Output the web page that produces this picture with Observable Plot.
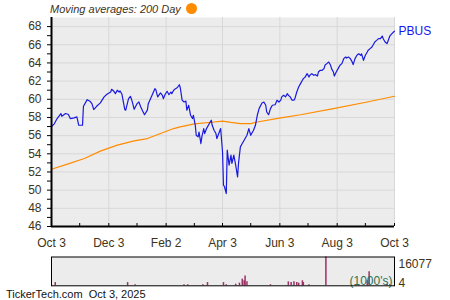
<!DOCTYPE html>
<html>
<head>
<meta charset="utf-8">
<script src="https://cdn.jsdelivr.net/npm/d3@7"></script>
<script src="https://cdn.jsdelivr.net/npm/@observablehq/plot@0.6"></script>
<style>
  html, body { margin: 0; padding: 0; background: #ffffff; }
  #wrap { position: relative; width: 450px; height: 300px; overflow: hidden;
          font-family: "Liberation Sans", Arial, sans-serif; }
  #legend { position: absolute; left: 50px; top: 2px; font-size: 11px; font-style: italic;
            color: #40341a; line-height: 14px; white-space: nowrap; }
  #legend .dot { display: inline-block; width: 11px; height: 11px; border-radius: 50%;
                 background: #ff8c00; vertical-align: -1px; margin-left: 5px; }
  #footer { position: absolute; left: 6px; top: 287px; font-size: 11px; line-height: 14px;
            color: #111111; white-space: nowrap; }
  svg { position: absolute; left: 0; }
</style>
</head>
<body>
<div id="wrap">
  <div id="legend"></div>
  <div id="footer"></div>
</div>
<script>
// ---------- data ----------
const ticker = "PBUS";
const legendText = "Moving averages: 200 Day";
const footerSite = "TickerTech.com";
const footerDate = "Oct 3, 2025";
const volUnitLabel = "(1000's)";

const axisStart = "2024-10-03";
const axisEnd = "2025-10-03";
const xLabelDates = ["2024-10-03","2024-12-03","2025-02-02","2025-04-03","2025-06-03","2025-08-03","2025-10-03"];
const xLabels = ["Oct 3","Dec 3","Feb 2","Apr 3","Jun 3","Aug 3","Oct 3"];
const xMinorDates = ["2024-11-02","2025-01-02","2025-03-04","2025-05-03","2025-07-03","2025-09-02"];
const yMajorTicks = [46,48,50,52,54,56,58,60,62,64,66,68];
const yMinorTicks = [47,49,51,53,55,57,59,61,63,65,67];
const yDomain = [46, 69];

const priceDates = [
"2024-10-03","2024-10-06","2024-10-09","2024-10-13","2024-10-14","2024-10-18","2024-10-21","2024-10-23","2024-10-27","2024-10-30",
"2024-11-01","2024-11-05","2024-11-06","2024-11-10","2024-11-13","2024-11-15","2024-11-17","2024-11-20","2024-11-24","2024-11-28",
"2024-12-01","2024-12-05","2024-12-06","2024-12-08","2024-12-10","2024-12-12","2024-12-14","2024-12-15","2024-12-17","2024-12-20",
"2024-12-21","2024-12-24","2024-12-26","2024-12-28","2024-12-30","2025-01-02","2025-01-04","2025-01-06","2025-01-08","2025-01-10",
"2025-01-13","2025-01-14","2025-01-18","2025-01-21","2025-01-22","2025-01-24","2025-01-27","2025-01-29","2025-01-30","2025-02-01",
"2025-02-03","2025-02-05","2025-02-07","2025-02-08","2025-02-10","2025-02-12","2025-02-14","2025-02-16","2025-02-17","2025-02-19",
"2025-02-21","2025-02-23","2025-02-24","2025-02-26","2025-02-28","2025-03-02","2025-03-03","2025-03-05","2025-03-06","2025-03-08",
"2025-03-09","2025-03-11","2025-03-12","2025-03-14","2025-03-15","2025-03-17","2025-03-18","2025-03-20","2025-03-22","2025-03-23",
"2025-03-25","2025-03-27","2025-03-28","2025-03-30","2025-04-01","2025-04-03","2025-04-04","2025-04-05","2025-04-07","2025-04-08",
"2025-04-10","2025-04-12","2025-04-13","2025-04-15","2025-04-17","2025-04-19","2025-04-20","2025-04-22","2025-04-24","2025-04-26",
"2025-04-27","2025-04-29","2025-05-01","2025-05-03","2025-05-04","2025-05-06","2025-05-08","2025-05-10","2025-05-12","2025-05-15",
"2025-05-17","2025-05-19","2025-05-20","2025-05-22","2025-05-24","2025-05-26","2025-05-29","2025-05-31","2025-06-02","2025-06-04",
"2025-06-05","2025-06-07","2025-06-09","2025-06-11","2025-06-12","2025-06-14","2025-06-16","2025-06-18","2025-06-19","2025-06-21",
"2025-06-23","2025-06-25","2025-06-27","2025-06-28","2025-06-30","2025-07-02","2025-07-04","2025-07-05","2025-07-07","2025-07-09",
"2025-07-11","2025-07-13","2025-07-14","2025-07-16","2025-07-18","2025-07-20","2025-07-21","2025-07-23","2025-07-25","2025-07-27",
"2025-07-28","2025-07-30","2025-07-31","2025-08-02","2025-08-04","2025-08-06","2025-08-08","2025-08-10","2025-08-12","2025-08-13",
"2025-08-15","2025-08-17","2025-08-19","2025-08-20","2025-08-22","2025-08-24","2025-08-26","2025-08-28","2025-08-29","2025-08-31",
"2025-09-02","2025-09-04","2025-09-05","2025-09-07","2025-09-09","2025-09-11","2025-09-12","2025-09-14","2025-09-16","2025-09-18",
"2025-09-20","2025-09-21","2025-09-23","2025-09-25","2025-09-27","2025-09-28","2025-09-30","2025-10-02","2025-10-03"
];
const priceValues = [
57.00,57.30,57.88,58.43,58.13,58.43,58.32,57.88,57.95,58.06,
57.14,57.14,59.23,59.96,59.78,59.52,58.87,59.23,59.60,60.26,
60.55,60.80,61.10,60.92,60.62,61.00,60.80,60.92,60.55,58.87,
58.80,60.07,60.33,59.71,58.90,59.52,59.70,59.16,58.70,58.30,
58.80,59.52,60.44,61.17,61.06,60.26,60.70,60.44,60.07,60.55,
60.88,60.50,60.80,60.62,61.00,61.17,61.30,61.60,61.30,59.90,
59.70,59.80,58.80,59.34,58.24,57.88,58.24,57.14,56.04,55.86,
56.40,55.13,55.86,56.78,56.23,56.78,56.96,57.33,57.70,57.14,
56.60,56.23,55.68,56.23,56.78,54.20,50.55,50.40,49.63,54.40,
52.75,53.85,52.94,53.85,52.75,51.46,52.94,54.76,55.13,55.50,
55.68,56.04,56.78,56.04,56.23,56.60,57.14,58.24,59.00,59.60,
59.70,59.34,58.60,58.30,58.97,59.34,59.40,59.90,59.70,59.90,
60.26,60.44,60.26,60.62,60.44,60.26,59.90,59.90,60.07,60.80,
61.35,61.72,62.09,62.27,62.45,62.82,62.45,62.64,62.82,62.64,
62.71,62.56,63.00,63.19,63.19,63.37,63.74,63.92,64.10,63.74,
63.37,63.00,62.56,63.00,63.37,63.74,63.92,64.47,64.65,64.54,
64.65,64.47,64.10,63.81,64.47,64.84,65.00,64.84,65.00,64.29,
64.84,65.20,65.39,65.57,65.75,66.12,66.30,66.48,66.67,66.67,
66.96,66.67,66.30,66.12,66.67,66.96,67.20,67.40,67.50
];

const maDates = ["2024-10-03","2024-10-20","2024-11-07","2024-11-24","2024-12-12","2024-12-30","2025-01-13","2025-01-27",
  "2025-02-10","2025-02-17","2025-03-04","2025-03-25","2025-04-03","2025-04-12","2025-04-22","2025-05-03","2025-05-10",
  "2025-06-04","2025-06-25","2025-07-30","2025-09-04","2025-10-03"];
const maValues = [52.30,52.86,53.48,54.29,54.95,55.42,55.68,56.23,
  56.78,56.96,57.30,57.50,57.60,57.45,57.33,57.33,57.50,
  57.95,58.30,58.97,59.70,60.33];

const volDates = ["2024-10-07","2024-12-23","2024-12-31","2025-02-21","2025-02-25","2025-03-13","2025-03-18","2025-04-04",
  "2025-04-07","2025-04-17","2025-04-21","2025-04-24","2025-04-26","2025-04-27","2025-04-29","2025-05-24","2025-06-12",
  "2025-06-15","2025-06-18","2025-06-21","2025-06-23","2025-06-27","2025-06-28","2025-07-04","2025-07-22","2025-09-04",
  "2025-09-06","2025-09-25","2025-09-28"];
const volValues = [1800,1800,600,600,600,600,1800,1800,
  600,900,1500,3700,2800,5500,2200,600,2200,
  1800,2200,1800,1500,2800,1800,600,16077,2800,
  7900,900,600];
const volMax = 16077;
const volMin = 4;

// ---------- build ----------
const parse = d3.utcParse("%Y-%m-%d");
const price = priceDates.map((d, i) => ({date: parse(d), value: priceValues[i]}));
const ma = maDates.map((d, i) => ({date: parse(d), value: maValues[i]}));
const vols = volDates.map((d, i) => ({date: parse(d), value: volValues[i]}));
const xDomain = [parse(axisStart), parse(axisEnd)];
const labelDates = xLabelDates.map(parse);
const minorDates = xMinorDates.map(parse);
const allTickDates = labelDates.concat(minorDates);

const textColor = "#40341a";
const gridColor = "#d8d8d8";
const bgColor = "#ececec";
const fontFamily = "'Liberation Sans', Arial, sans-serif";

document.getElementById("legend").innerHTML = legendText + '<span class="dot"></span>';
document.getElementById("footer").innerHTML = footerSite + "&nbsp;&nbsp;" + footerDate;

const main = Plot.plot({
  width: 450, height: 256,
  marginLeft: 51, marginRight: 56, marginTop: 17, marginBottom: 30,
  style: {fontFamily, fontSize: "12px", color: textColor, background: "transparent", overflow: "visible"},
  x: {type: "utc", domain: xDomain},
  y: {domain: yDomain},
  marks: [
    Plot.frame({fill: bgColor, stroke: null}),
    Plot.gridX(labelDates, {stroke: gridColor, strokeOpacity: 1}),
    Plot.gridY(yMajorTicks, {stroke: gridColor, strokeOpacity: 1}),
    Plot.line(ma, {x: "date", y: "value", stroke: "#ff8c00", strokeWidth: 1.2}),
    Plot.line(price, {x: "date", y: "value", stroke: "#1a1adf", strokeWidth: 1.2}),
    Plot.text([price[price.length - 1]], {x: "date", y: "value", text: () => ticker,
      textAnchor: "start", dx: 4, fill: "#1515f0", fontSize: 12}),
    Plot.axisY(yMajorTicks, {tickSize: 4, tickPadding: 6, stroke: "black", fill: textColor, label: null,
      tickFormat: d => String(d)}),
    Plot.axisY(yMinorTicks, {tickSize: 4, stroke: "black", text: null, label: null}),
    Plot.axisX(labelDates, {tickSize: 0, tickPadding: 12, fill: textColor, label: null,
      tickFormat: d => xLabels[labelDates.findIndex(t => +t === +d)]}),
    Plot.axisX(allTickDates, {tickSize: -3, stroke: "black", text: null, label: null}),
    Plot.ruleX([xDomain[0]], {stroke: "black", strokeWidth: 2}),
    Plot.ruleY([yDomain[0]], {stroke: "black", strokeWidth: 2})
  ]
});
main.style.top = "0px";

const vol = Plot.plot({
  width: 450, height: 40,
  marginLeft: 51, marginRight: 56, marginTop: 6.5, marginBottom: 4.7,
  style: {fontFamily, fontSize: "12px", color: textColor, background: "transparent", overflow: "visible"},
  x: {type: "utc", domain: xDomain, axis: null},
  y: {domain: [0, volMax], axis: null},
  marks: [
    Plot.frame({fill: bgColor, stroke: null}),
    Plot.ruleX(vols, {x: "date", y1: 0, y2: "value", stroke: "#9c2f63", strokeWidth: 1.5}),
    Plot.text([volUnitLabel], {frameAnchor: "bottom-right", lineAnchor: "middle", textAnchor: "end",
      dx: -2, dy: -4.5, fill: "#2e7050", fontSize: 12}),
    Plot.frame({stroke: "black", strokeWidth: 1}),
    Plot.text([volMax], {y: d => d, text: d => String(d), frameAnchor: "right", textAnchor: "start", dx: 4, dy: 7,
      fill: textColor, fontSize: 12}),
    Plot.text([volMin], {y: d => d, text: d => String(d), frameAnchor: "right", textAnchor: "start", dx: 4, dy: -3,
      fill: textColor, fontSize: 12})
  ]
});
vol.style.top = "250px";

const wrap = document.getElementById("wrap");
wrap.appendChild(main);
wrap.appendChild(vol);
</script>
</body>
</html>
